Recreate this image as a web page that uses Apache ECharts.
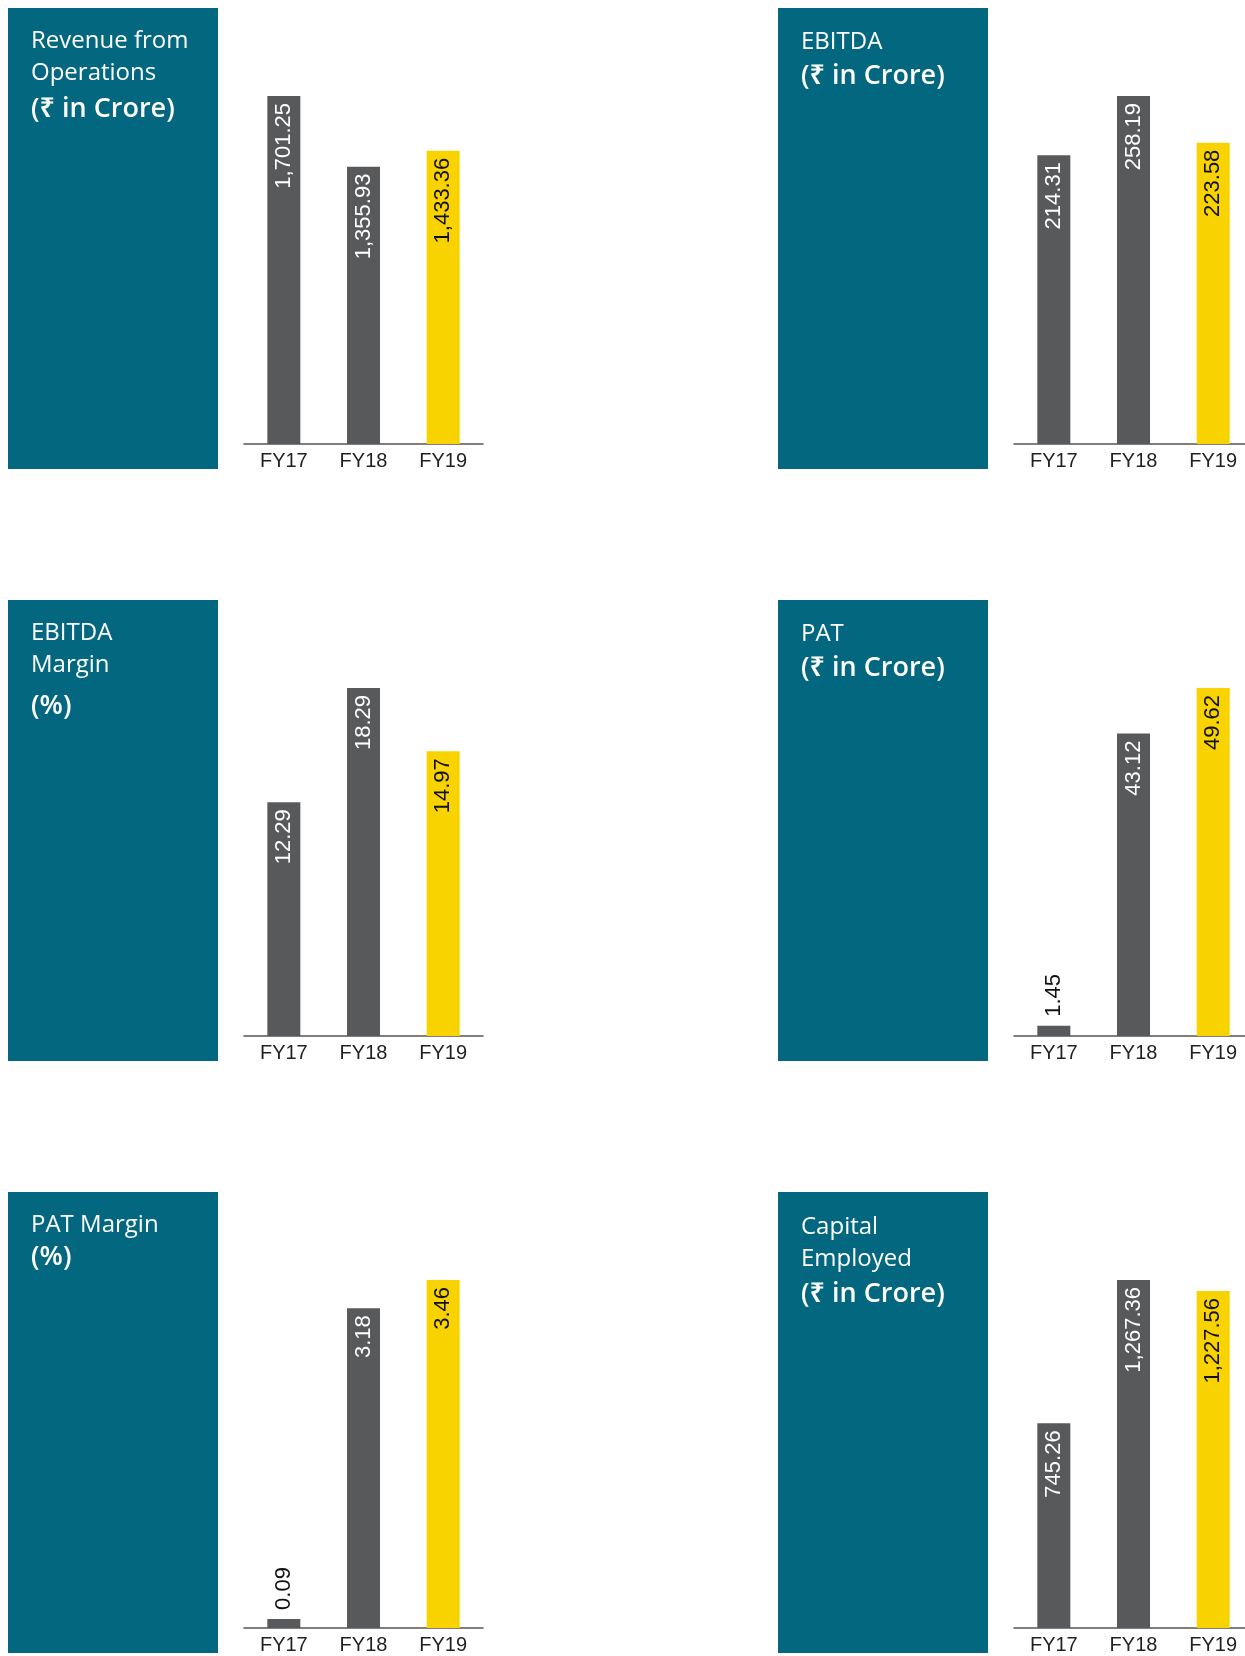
<!DOCTYPE html>
<html>
<head>
<meta charset="utf-8">
<style>
  html, body { margin: 0; padding: 0; background: #ffffff; overflow: hidden; }
  #chart { width: 1265px; height: 1656px; }
</style>
<script src="https://cdn.jsdelivr.net/npm/echarts@6/dist/echarts.min.js"></script>
</head>
<body>
<div id="chart"></div>
<script>
// ---- data ----
var categories = ['FY17', 'FY18', 'FY19'];
var revenue = [1701.25, 1355.93, 1433.36];
var ebitda = [214.31, 258.19, 223.58];
var ebitdaMargin = [12.29, 18.29, 14.97];
var pat = [1.45, 43.12, 49.62];
var patMargin = [0.09, 3.18, 3.46];
var capitalEmployed = [745.26, 1267.36, 1227.56];

var titleRevenue = ['Revenue from', 'Operations', '(₹ in Crore)'];
var titleEbitda = ['EBITDA', '(₹ in Crore)'];
var titleEbitdaMargin = ['EBITDA', 'Margin', '(%)'];
var titlePat = ['PAT', '(₹ in Crore)'];
var titlePatMargin = ['PAT Margin', '(%)'];
var titleCapital = ['Capital', 'Employed', '(₹ in Crore)'];

// ---- layout / style ----
var TEAL = '#02677f', GRAY = '#58595b', YELLOW = '#f8d300';
var panels = [
  { data: revenue, title: titleRevenue, offs: [21, 53, 88] },
  { data: ebitda, title: titleEbitda, offs: [22, 55] },
  { data: ebitdaMargin, title: titleEbitdaMargin, offs: [21, 53, 93] },
  { data: pat, title: titlePat, offs: [22, 55] },
  { data: patMargin, title: titlePatMargin, offs: [21, 52] },
  { data: capitalEmployed, title: titleCapital, offs: [23, 55, 89] }
];

function fmt(v) {
  return v.toLocaleString('en-US', { minimumFractionDigits: 2, maximumFractionDigits: 2 });
}

var grids = [], xAxes = [], yAxes = [], series = [], graphics = [];
panels.forEach(function (p, i) {
  var col = i % 2, row = Math.floor(i / 2);
  var ox = col * 770, oy = row * 592;
  var boxX = 8 + ox, boxY = 8 + oy;
  graphics.push({ type: 'rect', shape: { x: boxX, y: boxY, width: 210, height: 461 }, style: { fill: TEAL }, silent: true });
  p.title.forEach(function (t, k) {
    var bold = t.charAt(0) === '(';
    graphics.push({
      type: 'text', x: boxX + 23, y: boxY + p.offs[k], silent: true,
      style: {
        text: t, fill: '#ffffff',
        fontFamily: '"Open Sans", "Noto Sans", sans-serif',
        fontSize: bold ? 27 : 24, fontWeight: bold ? 600 : 'normal',
        verticalAlign: 'top'
      }
    });
  });
  grids.push({ left: 244 + ox, top: 96 + oy, width: 239, height: 348, containLabel: false });
  xAxes.push({
    type: 'category', gridIndex: i, data: categories,
    axisLine: { show: true, lineStyle: { color: '#555555', width: 1.5 } },
    axisTick: { show: false },
    axisLabel: { color: '#231f20', fontSize: 20, fontFamily: '"Liberation Sans", Arial, sans-serif', margin: 7 }
  });
  var mx = Math.max.apply(null, p.data);
  yAxes.push({ type: 'value', gridIndex: i, min: 0, max: mx, show: false, splitLine: { show: false } });
  series.push({
    type: 'bar', xAxisIndex: i, yAxisIndex: i, barWidth: 33, silent: true,
    data: p.data.map(function (v, j) {
      var isLast = j === p.data.length - 1;
      var small = v / mx < 0.15;
      var lbl = small ? {
        show: true, position: 'top', distance: 9, rotate: 90, align: 'left', verticalAlign: 'middle',
        color: '#111111'
      } : {
        show: true, position: 'insideTop', distance: 7, rotate: 90, align: 'right', verticalAlign: 'middle',
        color: isLast ? '#111111' : '#ffffff'
      };
      return { value: v, itemStyle: { color: isLast ? YELLOW : GRAY }, label: lbl };
    }),
    label: {
      fontSize: 22, fontFamily: '"Liberation Sans", Arial, sans-serif',
      formatter: function (prm) { return fmt(prm.value); }
    }
  });
});

var chart = echarts.init(document.getElementById('chart'), null, { renderer: 'canvas' });
chart.setOption({
  animation: false,
  backgroundColor: '#ffffff',
  grid: grids,
  xAxis: xAxes,
  yAxis: yAxes,
  series: series,
  graphic: graphics
});
</script>
</body>
</html>
